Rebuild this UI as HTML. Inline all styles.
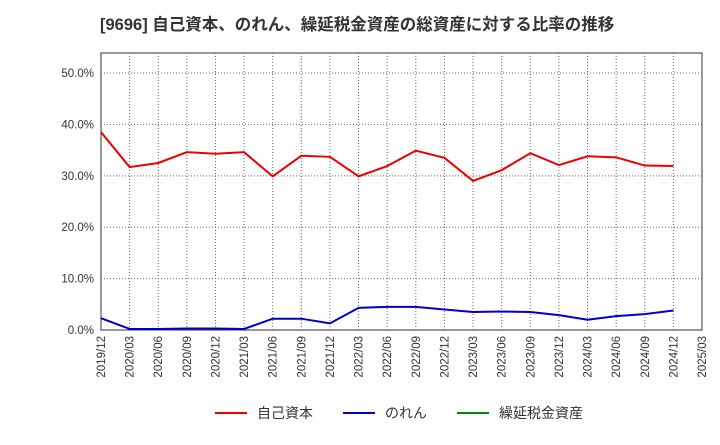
<!DOCTYPE html>
<html><head><meta charset="utf-8"><style>
body{margin:0;background:#fff;font-family:"Liberation Sans","Noto Sans CJK JP",sans-serif;}
svg text{font-family:"Liberation Sans","Noto Sans CJK JP",sans-serif;}
</style></head><body>
<svg id="c" width="720" height="440" xmlns="http://www.w3.org/2000/svg">
<text x="100" y="30" font-size="16.5" font-weight="bold" fill="#333">[9696]  自己資本、のれん、繰延税金資産の総資産に対する比率の推移</text>
<g id="grid"></g><g id="axes"></g><g id="series"></g>
<g>
<line x1="215" y1="413" x2="247" y2="413" stroke="#e00" stroke-width="2"/>
<text x="257" y="418" font-size="14" fill="#333">自己資本</text>
<line x1="343" y1="413" x2="375" y2="413" stroke="#00c" stroke-width="2"/>
<text x="385" y="418" font-size="14" fill="#333">のれん</text>
<line x1="457" y1="413" x2="489" y2="413" stroke="#080" stroke-width="2"/>
<text x="499" y="418" font-size="14" fill="#333">繰延税金資産</text>
</g>
</svg>
<script>
const categories=["2019/12","2020/03","2020/06","2020/09","2020/12","2021/03","2021/06","2021/09","2021/12","2022/03","2022/06","2022/09","2022/12","2023/03","2023/06","2023/09","2023/12","2024/03","2024/06","2024/09","2024/12","2025/03"];
const equity=[38.5,31.7,32.5,34.6,34.3,34.6,29.9,33.9,33.7,29.9,31.9,34.9,33.5,29.0,31.1,34.4,32.1,33.8,33.6,32.0,31.9];
const goodwill=[2.3,0.2,0.2,0.3,0.3,0.2,2.2,2.2,1.3,4.3,4.5,4.5,4.0,3.5,3.6,3.5,2.9,2.0,2.7,3.1,3.8];
const yTicks=[0,10,20,30,40,50];
const L=101,R=702,T=53,B=330,yMax=53.9;
const xs=i=>L+(R-L)*i/(categories.length-1);
const ys=v=>B-(B-T)*v/yMax;
const NS="http://www.w3.org/2000/svg";
function mk(p,tag,attrs){const e=document.createElementNS(NS,tag);for(const k in attrs)e.setAttribute(k,attrs[k]);p.appendChild(e);return e;}
const grid=document.getElementById('grid'),axes=document.getElementById('axes'),ser=document.getElementById('series');
const bg=mk(grid,'rect',{x:L,y:T,width:R-L,height:B-T,fill:'#fff',stroke:'#333'});


categories.forEach((c,i)=>{
 const x=xs(i);
 if(i>0&&i<categories.length-1){const g=mk(grid,'line',{x1:x,x2:x,y1:T,y2:B,stroke:'#666','stroke-dasharray':'1,2','stroke-width':1});
 
 }
 const t=mk(axes,'text',{x:0,y:0,'font-size':11.5,fill:'#333','text-anchor':'end',transform:`translate(${x+4},${B+6}) rotate(-90)`});
 t.textContent=c;
 
 
});
yTicks.forEach(v=>{
 const y=ys(v);
 if(v>0){const g=mk(grid,'line',{x1:L,x2:R,y1:y,y2:y,stroke:'#666','stroke-dasharray':'1,2','stroke-width':1});
 
 }
 const t=mk(axes,'text',{x:L-7,y:y+4,'font-size':11.5,fill:'#333','text-anchor':'end'});
 t.textContent=v.toFixed(1)+'%';
 
 
});
function line(data,color,name){
 const p=mk(ser,'polyline',{points:data.map((v,i)=>xs(i)+','+ys(v)).join(' '),fill:'none',stroke:color,'stroke-width':2});
 
 
}
line(equity,'#e00','equity-line');
line(goodwill,'#00c','goodwill-line');
</script>
</body></html>
